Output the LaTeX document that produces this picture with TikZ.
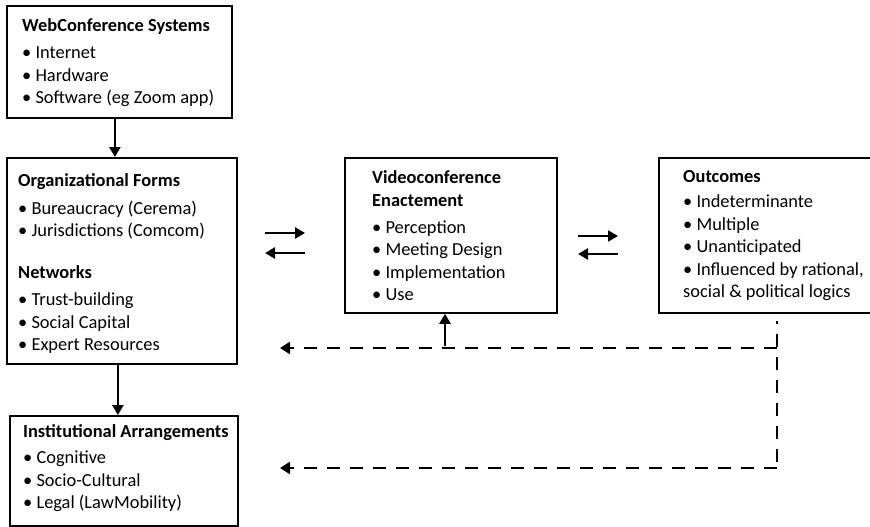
\documentclass[tikz,border=0pt]{standalone}
\usepackage{fontspec}
\setmainfont{Carlito}
\usetikzlibrary{arrows.meta,calc}
\begin{document}
\begin{tikzpicture}[x=1pt,y=-1pt,
 box/.style={draw, line width=1.8pt, inner sep=0, anchor=north west},
 txt/.style={anchor=north west, inner sep=0, align=left, font=\fontsize{18.4}{22.5}\selectfont},
 arr/.style={line width=2.6pt, -{Triangle[length=10pt,width=11pt]}},
 dl/.style={line width=2.8pt, dash pattern=on 13pt off 10pt},
 darr/.style={dl, -{Triangle[length=10pt,width=12pt]}},
]
\useasboundingbox (0,0) rectangle (870,527);
\clip (0,0) rectangle (870,527);
% boxes
\node[box, minimum width=225pt, minimum height=112pt] (b1) at (6,5) {};
\node[box, minimum width=230pt, minimum height=206pt] (b2) at (6,157) {};
\node[box, minimum width=212pt, minimum height=155pt] (b3) at (344,157) {};
\node[box, minimum width=230pt, minimum height=155pt] (b4) at (658,157) {};
\node[box, minimum width=228pt, minimum height=110pt] (b5) at (9,415) {};
% texts
\node[txt] (t1) at (22,18.5) {\textbf{WebConference Systems}\\[4.5pt] • Internet\\ • Hardware\\ • Software (eg Zoom app)};
\node[txt] (t2) at (18,173.5) {\textbf{Organizational Forms}\\[5pt] • Bureaucracy (Cerema)\\ • Jurisdictions (Comcom)\\[19.5pt] \textbf{Networks}\\[4.5pt] • Trust-building\\ • Social Capital\\ • Expert Resources};
\node[txt] (t3) at (372,170.5) {\textbf{Videoconference}\\ \textbf{Enactement}\\[4.5pt] • Perception\\ • Meeting Design\\ • Implementation\\ • Use};
\node[txt] (t4) at (683,170.5) {\textbf{Outcomes}\\[2.5pt] • Indeterminante\\ • Multiple\\ • Unanticipated\\ • Influenced by rational,\\ social \& political logics};
\node[txt] (t5) at (23,424.5) {\textbf{Institutional Arrangements}\\[3.5pt] • Cognitive\\ • Socio-Cultural\\ • Legal (LawMobility)};
% vertical arrows
\draw[arr] ([xshift=-4.5pt]b1.south) -- ([xshift=-4.5pt]b1.south |- b2.north);
\draw[arr] ([xshift=-4pt]b2.south) -- ([xshift=-4pt]b2.south |- b5.north);
% double arrows
\coordinate (l1) at (265,233); \coordinate (l2) at (305,233);
\coordinate (l3) at (305,253); \coordinate (l4) at (265,253);
\coordinate (r1) at (578,236); \coordinate (r2) at (618,236);
\coordinate (r3) at (618,254); \coordinate (r4) at (578,254);
\draw[arr] (l1) -- (l2); \draw[arr] (l3) -- (l4);
\draw[arr] (r1) -- (r2); \draw[arr] (r3) -- (r4);
% feedback dashed lines
\coordinate (d0) at (777,321); \coordinate (d1) at (777,348); \coordinate (d2) at (777,468);
\coordinate (e1) at (280,348); \coordinate (e2) at (280,468);
\coordinate (u0) at (445,346);
\draw[dl, dash phase=10pt] (d0) -- (d2);
\draw[darr] (d1) -- (e1);
\draw[darr] (d2) -- (e2);
\draw[arr] (u0) -- (b3.south -| u0);
\end{tikzpicture}
\end{document}
